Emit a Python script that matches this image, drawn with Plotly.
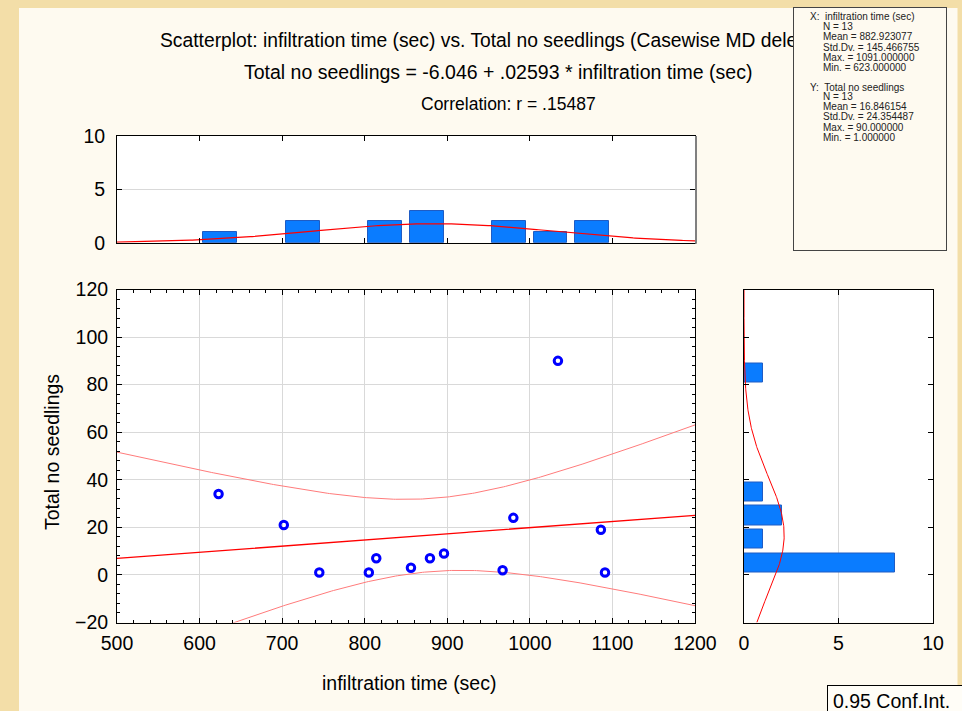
import numpy as np
import plotly.graph_objects as go

W, H = 962, 711

# ---------------- data ----------------
infil_time = [623, 702, 745, 805, 814, 856, 879, 896, 967, 980, 1034, 1086, 1091]
seedlings = [34, 21, 1, 1, 7, 3, 7, 9, 2, 24, 90, 19, 1]

x_hist_centers = [625, 725, 825, 875, 975, 1025, 1075]
x_hist_counts = [1, 2, 2, 3, 2, 1, 2]
X_BIN = 50

y_hist_centers = [5, 15, 25, 35, 85]
y_hist_counts = [8, 1, 2, 1, 1]
Y_BIN = 10

x_ticks = [500, 600, 700, 800, 900, 1000, 1100, 1200]
y_ticks = [-20, 0, 20, 40, 60, 80, 100, 120]
hist_ticks = [0, 5, 10]

INTERCEPT = -6.046
SLOPE = 0.02593
T_CRIT = 2.201  # t(0.975, 11)

title_lines = [
    "Scatterplot: infiltration time (sec) vs. Total no seedlings (Casewise MD deletion)",
    "Total no seedlings = -6.046 + .02593 * infiltration time (sec)",
    "Correlation: r = .15487",
]
stats_x = ["X:  infiltration time (sec)", "N = 13", "Mean = 882.923077",
           "Std.Dv. = 145.466755", "Max. = 1091.000000", "Min. = 623.000000"]
stats_y = ["Y:  Total no seedlings", "N = 13", "Mean = 16.846154",
           "Std.Dv. = 24.354487", "Max. = 90.000000", "Min. = 1.000000"]

# ---------------- derived fits ----------------
xa = np.array(infil_time, float)
ya = np.array(seedlings, float)
n = len(xa)
xm, ym = xa.mean(), ya.mean()
sx, sy = xa.std(ddof=1), ya.std(ddof=1)
Sxx = ((xa - xm) ** 2).sum()
resid = ya - (INTERCEPT + SLOPE * xa)
s_res = np.sqrt((resid ** 2).sum() / (n - 2))

xg = np.linspace(x_ticks[0], x_ticks[-1], 300)
yhat = INTERCEPT + SLOPE * xg
se = s_res * np.sqrt(1.0 / n + (xg - xm) ** 2 / Sxx)
ci_up = yhat + T_CRIT * se
ci_lo = yhat - T_CRIT * se

norm_x = n * X_BIN / (sx * np.sqrt(2 * np.pi)) * np.exp(-0.5 * ((xg - xm) / sx) ** 2)
yg = np.linspace(y_ticks[0], y_ticks[-1], 300)
norm_y = n * Y_BIN / (sy * np.sqrt(2 * np.pi)) * np.exp(-0.5 * ((yg - ym) / sy) ** 2)

# ---------------- layout helpers ----------------
def fx(px):
    return px / W

def fy(py):
    return 1 - py / H

FONT = "Liberation Sans, Arial, sans-serif"
BAR_FILL = "#0a7cff"
BAR_EDGE = "#1f5cc4"
GRID = "#d9d9d9"
TXT = 19.5

fig = go.Figure()

# top histogram
fig.add_trace(go.Bar(x=x_hist_centers, y=x_hist_counts, width=X_BIN * 0.82,
                     marker=dict(color=BAR_FILL, line=dict(color=BAR_EDGE, width=1)),
                     xaxis="x2", yaxis="y2", showlegend=False))
fig.add_trace(go.Scatter(x=xg, y=norm_x, mode="lines", line=dict(color="#ff0000", width=1.2),
                         xaxis="x2", yaxis="y2", showlegend=False))

# scatter + regression
fig.add_trace(go.Scatter(x=xg, y=ci_up, mode="lines", line=dict(color="#ff7b7b", width=1),
                         xaxis="x", yaxis="y", showlegend=False))
fig.add_trace(go.Scatter(x=xg, y=ci_lo, mode="lines", line=dict(color="#ff7b7b", width=1),
                         xaxis="x", yaxis="y", showlegend=False))
fig.add_trace(go.Scatter(x=xg, y=yhat, mode="lines", line=dict(color="#ff0000", width=1.3),
                         xaxis="x", yaxis="y", showlegend=False))
fig.add_trace(go.Scatter(x=infil_time, y=seedlings, mode="markers",
                         marker=dict(symbol="circle-open", size=7.5, color="#0000ff",
                                     line=dict(width=3, color="#0000ff")),
                         xaxis="x", yaxis="y", showlegend=False))

# right histogram
fig.add_trace(go.Bar(y=y_hist_centers, x=y_hist_counts, width=Y_BIN * 0.81, orientation="h",
                     marker=dict(color=BAR_FILL, line=dict(color=BAR_EDGE, width=1)),
                     xaxis="x3", yaxis="y3", showlegend=False))
fig.add_trace(go.Scatter(x=norm_y, y=yg, mode="lines", line=dict(color="#ff0000", width=1),
                         xaxis="x3", yaxis="y3", showlegend=False))

tickfont = dict(family=FONT, size=TXT, color="black")
common = dict(showline=True, linecolor="black", linewidth=1, mirror="allticks",
              ticks="inside", ticklen=5, tickcolor="black", zeroline=False,
              tickfont=tickfont, gridcolor=GRID, gridwidth=1, automargin=False)

SC_L, SC_R, SC_T, SC_B = 117, 695, 289.5, 622.5
TH_T, TH_B = 136, 242.7

fig.update_layout(
    width=W, height=H, autosize=False,
    margin=dict(l=0, r=0, t=0, b=0, pad=0),
    paper_bgcolor="#fefaf0", plot_bgcolor="white",
    bargap=0,
    xaxis=dict(domain=[fx(SC_L), fx(SC_R)], range=[x_ticks[0], x_ticks[-1]], anchor="y",
               tickvals=x_ticks, showgrid=True, ticklabelstandoff=3,
               minor=dict(dtick=20, ticks="inside", ticklen=3, tickcolor="black", showgrid=False),
               **common),
    yaxis=dict(domain=[fy(SC_B), fy(SC_T)], range=[y_ticks[0], y_ticks[-1]], anchor="x",
               tickvals=y_ticks, showgrid=True, ticklabelstandoff=4,
               minor=dict(dtick=4, ticks="inside", ticklen=3, tickcolor="black", showgrid=False),
               **common),
    xaxis2=dict(domain=[fx(SC_L), fx(SC_R)], range=[x_ticks[0], x_ticks[-1]], anchor="y2",
                tickvals=x_ticks, showticklabels=False, showgrid=False, **common),
    yaxis2=dict(domain=[fy(TH_B), fy(TH_T)], range=[0, 10], anchor="x2",
                tickvals=hist_ticks, showgrid=True, ticklabelstandoff=7, **common),
    xaxis3=dict(domain=[fx(744), fx(933)], range=[0, 10], anchor="y3",
                tickvals=hist_ticks, showgrid=True, ticklabelstandoff=3, **common),
    yaxis3=dict(domain=[fy(SC_B), fy(SC_T)], range=[y_ticks[0], y_ticks[-1]], anchor="x3",
                tickvals=y_ticks, showticklabels=False, showgrid=False, **common),
)

# tan window border
TAN = "#f3dea8"
for x0, y0, x1, y1 in [(0, 0, 19, H), (0, 0, W, 8), (957.5, 0, W, H)]:
    fig.add_shape(type="rect", xref="paper", yref="paper",
                  x0=fx(x0), x1=fx(x1), y0=fy(y1), y1=fy(y0),
                  line=dict(width=0), fillcolor=TAN, layer="above")
# grey shaded right edge of the top histogram frame
fig.add_shape(type="line", xref="paper", yref="paper",
              x0=fx(SC_R + 1), x1=fx(SC_R + 1), y0=fy(TH_B + 1), y1=fy(TH_T),
              line=dict(color="#808080", width=2), layer="above")

annots = []
title_specs = [  # (x, anchor, y, size)
    (158, "left", 40, 19.3),
    (498, "center", 72, 19.5),
    (508, "center", 104, 17.5),
]
for t, (px, anc, py, sz) in zip(title_lines, title_specs):
    annots.append(dict(text=t, x=fx(px), y=fy(py), xref="paper", yref="paper",
                       xanchor=anc, yanchor="middle", showarrow=False,
                       font=dict(family=FONT, size=sz, color="black")))

# stats box (covers the end of the first title line)
annots.append(dict(text=" ", x=fx(793), y=fy(7), xref="paper", yref="paper",
                   xanchor="left", yanchor="top", showarrow=False,
                   width=152, height=242, borderpad=0, borderwidth=1,
                   bordercolor="#444444", bgcolor="#fefaf0"))
STEP = 10
for lines, start in [(stats_x, 17), (stats_y, 17 + 7 * STEP)]:
    for i, t in enumerate(lines):
        annots.append(dict(text=t, x=fx(808 if i == 0 else 821), y=fy(start + i * STEP),
                           xref="paper", yref="paper", xanchor="left", yanchor="middle",
                           showarrow=False, font=dict(family=FONT, size=10, color="#222222")))

# axis titles
annots.append(dict(text="Total no seedlings", x=fx(52), y=fy(452), xref="paper", yref="paper",
                   textangle=-90, showarrow=False, xanchor="center", yanchor="middle",
                   font=dict(family=FONT, size=TXT, color="black")))
annots.append(dict(text="infiltration time (sec)", x=fx(409), y=fy(683), xref="paper",
                   yref="paper", showarrow=False, xanchor="center", yanchor="middle",
                   font=dict(family=FONT, size=TXT, color="black")))

# confidence interval legend box
annots.append(dict(text="0.95 Conf.Int.", x=fx(827), y=fy(684.5), xref="paper", yref="paper",
                   xanchor="left", yanchor="top", showarrow=False, align="left",
                   width=150, height=20, borderpad=5, borderwidth=1, bordercolor="black",
                   bgcolor="#fffdf7", font=dict(family=FONT, size=TXT, color="black")))

fig.update_layout(annotations=annots)

fig.write_html("out.html")
